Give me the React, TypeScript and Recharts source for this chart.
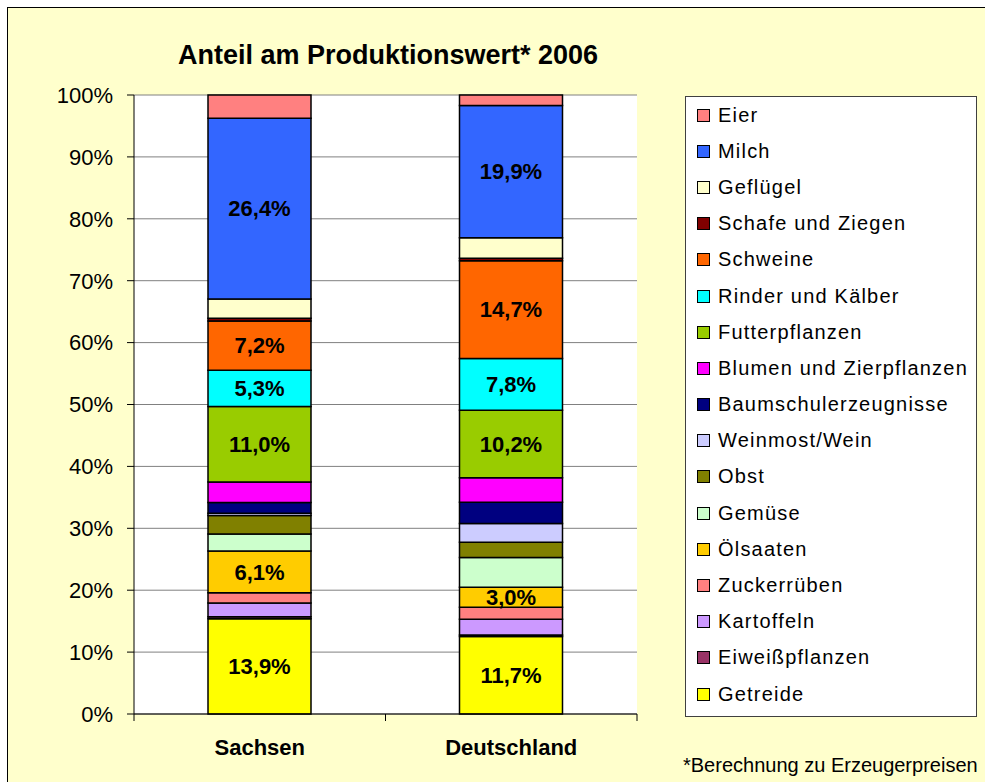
import { Bar, BarChart, CartesianGrid, LabelList, XAxis, YAxis } from "recharts";

// Categories on the x axis
const categories = ["Sachsen", "Deutschland"];

// Series from bottom of the stack to the top
const seriesNames = [
  "Getreide",
  "Eiweißpflanzen",
  "Kartoffeln",
  "Zuckerrüben",
  "Ölsaaten",
  "Gemüse",
  "Obst",
  "Weinmost/Wein",
  "Baumschulerzeugnisse",
  "Blumen und Zierpflanzen",
  "Futterpflanzen",
  "Rinder und Kälber",
  "Schweine",
  "Schafe und Ziegen",
  "Geflügel",
  "Milch",
  "Eier",
];

// Share of production value in % (chart is normalised to 100 %)
const sachsenValues = [13.9, 0.3, 2.0, 1.5, 6.1, 2.5, 2.7, 0.3, 1.6, 3.0, 11.0, 5.3, 7.2, 0.4, 2.8, 26.4, 3.4];
const deutschlandValues = [11.7, 0.2, 2.4, 1.8, 3.0, 4.5, 2.3, 2.8, 3.2, 3.7, 10.2, 7.8, 14.7, 0.4, 3.1, 19.9, 1.6];

const seriesColors = [
  "#FFFF00",
  "#993366",
  "#CC99FF",
  "#FF8080",
  "#FFCC00",
  "#CCFFCC",
  "#808000",
  "#CCCCFF",
  "#000080",
  "#FF00FF",
  "#99CC00",
  "#00FFFF",
  "#FF6600",
  "#800000",
  "#FFFFCC",
  "#3366FF",
  "#FF8080",
];

// Only these segments carry a value label
const labelledSeries = ["Getreide", "Ölsaaten", "Futterpflanzen", "Rinder und Kälber", "Schweine", "Milch"];

const yTicks = [0, 0.1, 0.2, 0.3, 0.4, 0.5, 0.6, 0.7, 0.8, 0.9, 1];

const valuesByCategory = [sachsenValues, deutschlandValues];
const rows = categories.map((name, ci) => {
  const row: Record<string, string | number> = { name };
  seriesNames.forEach((_, si) => {
    row[`s${si}`] = valuesByCategory[ci][si];
  });
  return row;
});

const FONT = '"Liberation Sans", Arial, sans-serif';

const fmtValue = (v: unknown) => `${Number(v).toFixed(1).replace(".", ",")}%`;

function CategoryTick(props: any) {
  const { x, y, payload, index } = props;
  const half = payload?.offset ?? 125.75;
  const last = index === categories.length - 1;
  return (
    <g>
      <line x1={x - half} x2={x - half} y1={y} y2={y + 7} stroke="#000" />
      {last && <line x1={x + half} x2={x + half} y1={y} y2={y + 7} stroke="#000" />}
      <text
        x={x}
        y={y + 41}
        textAnchor="middle"
        fontFamily={FONT}
        fontWeight="bold"
        fontSize={22}
        fill="#000"
      >
        {payload.value}
      </text>
    </g>
  );
}

export default function App() {
  const legendItems = seriesNames.map((name, i) => ({ name, color: seriesColors[i] })).reverse();
  return (
    <div style={{ position: "absolute", left: 0, top: 0, width: 985, height: 782, overflow: "hidden" }}>
      <div
        style={{
          position: "absolute",
          left: 7,
          top: 7,
          width: 1000,
          height: 800,
          border: "1px solid #000",
          background: "#FFFFCC",
        }}
      />
      <div
        style={{
          position: "absolute",
          left: 0,
          top: 40,
          width: 776,
          textAlign: "center",
          fontFamily: FONT,
          fontWeight: "bold",
          fontSize: 27,
          lineHeight: "30px",
          color: "#000",
        }}
      >
        Anteil am Produktionswert* 2006
      </div>
      <div style={{ position: "absolute", left: 0, top: 0 }}>
        <BarChart
          width={985}
          height={782}
          data={rows}
          stackOffset="expand"
          margin={{ top: 95, right: 348, left: 0, bottom: 28 }}
        >
          <CartesianGrid vertical={false} stroke="#808080" fill="#FFFFFF" />
          <XAxis
            dataKey="name"
            height={40}
            stroke="#000"
            tickLine={false}
            tickSize={0}
            tickMargin={0}
            tick={<CategoryTick />}
            interval={0}
          />
          <YAxis
            width={134}
            domain={[0, 1]}
            ticks={yTicks}
            stroke="#000"
            tickSize={7}
            tickMargin={14}
            tickFormatter={(v: number) => `${Math.round(v * 100)}%`}
            tick={{ fontFamily: FONT, fontSize: 22, fill: "#000" }}
          />
          {seriesNames.map((name, i) => (
            <Bar
              key={name}
              dataKey={`s${i}`}
              name={name}
              stackId="a"
              fill={seriesColors[i]}
              stroke="#000"
              strokeWidth={1.5}
              barSize={103}
              isAnimationActive={false}
            >
              {labelledSeries.includes(name) && (
                <LabelList
                  dataKey={`s${i}`}
                  position="center"
                  formatter={fmtValue}
                  fontFamily={FONT}
                  fontWeight="bold"
                  fontSize={22}
                  fill="#000"
                />
              )}
            </Bar>
          ))}
        </BarChart>
      </div>
      <div
        style={{
          position: "absolute",
          left: 685,
          top: 96,
          width: 290,
          height: 619,
          border: "1px solid #404040",
          background: "#FFFFFF",
          fontFamily: FONT,
          fontSize: 20,
          letterSpacing: 1.2,
          color: "#000",
        }}
      >
        {legendItems.map((item) => (
          <div key={item.name} style={{ height: 36.2, display: "flex", alignItems: "center" }}>
            <span
              style={{
                display: "inline-block",
                width: 11,
                height: 11,
                marginLeft: 11,
                marginRight: 8,
                border: "1px solid #000",
                background: item.color,
              }}
            />
            <span style={{ whiteSpace: "nowrap" }}>{item.name}</span>
          </div>
        ))}
      </div>
      <div
        style={{
          position: "absolute",
          left: 683,
          top: 754,
          fontFamily: FONT,
          fontSize: 20,
          lineHeight: "22px",
          whiteSpace: "nowrap",
          color: "#000",
        }}
      >
        *Berechnung zu Erzeugerpreisen
      </div>
    </div>
  );
}
